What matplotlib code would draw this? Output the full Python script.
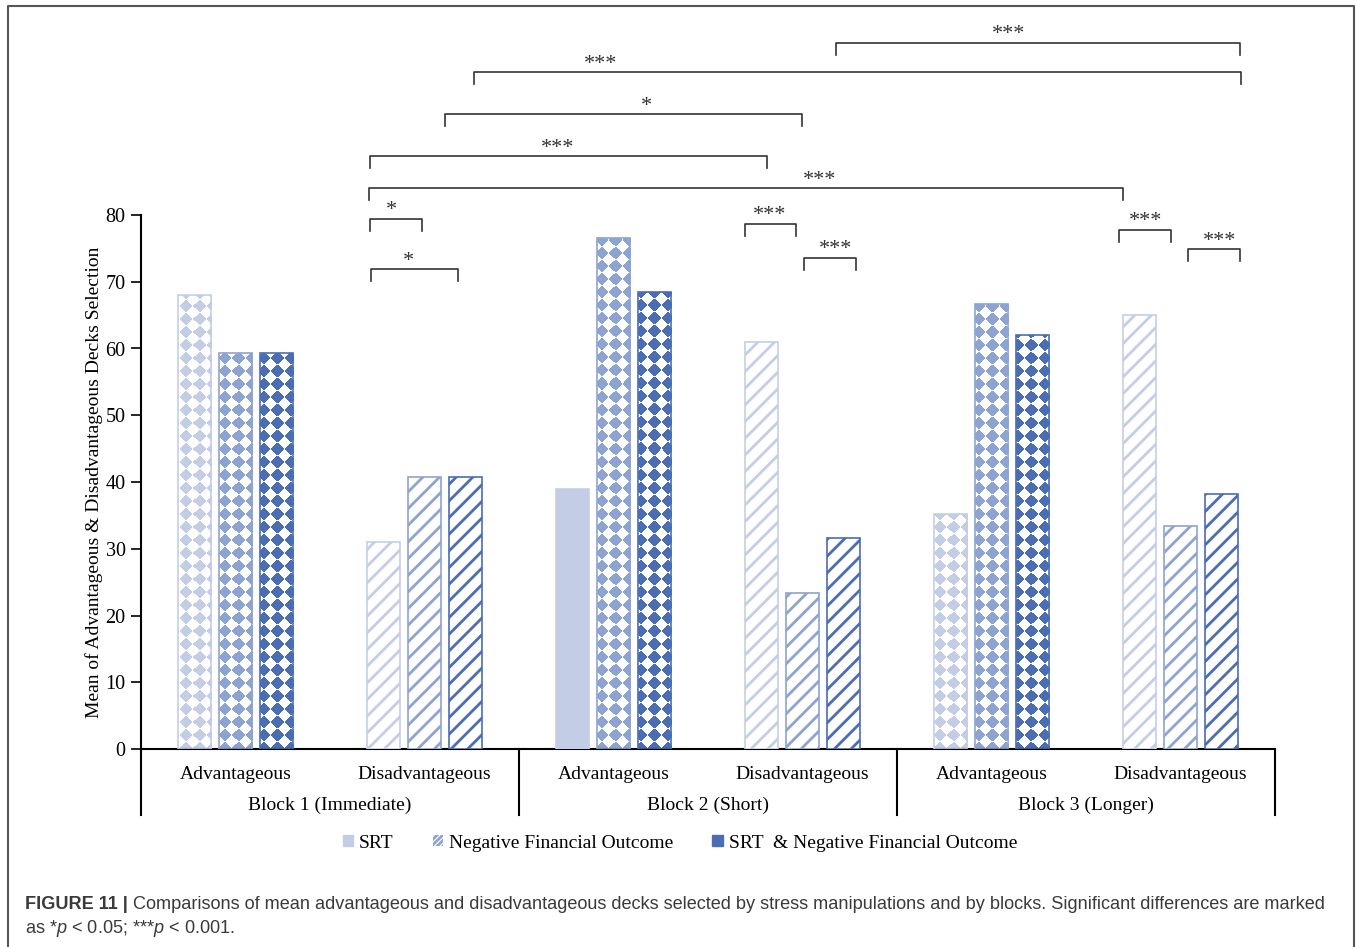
import numpy as np
import matplotlib
matplotlib.use("Agg")
import matplotlib.pyplot as plt
from matplotlib import colors as mcolors
from matplotlib.patches import Patch
from matplotlib.lines import Line2D

# Dane
blocks = ['Block 1 (Immediate)', 'Block 2 (Short)', 'Block 3 (Longer)']
decks = ['Advantageous', 'Disadvantageous', 'Advantageous', 'Disadvantageous',
         'Advantageous', 'Disadvantageous']
series = ['SRT', 'Negative Financial Outcome', 'SRT  & Negative Financial Outcome']
srt = [68.0, 31.0, 39.0, 61.0, 35.2, 65.0]
nfo = [59.3, 40.7, 76.6, 23.4, 66.6, 33.4]
both = [59.3, 40.7, 68.5, 31.6, 62.0, 38.2]
yticks = [0, 10, 20, 30, 40, 50, 60, 70, 80]

# istotnosci: (x od, x do, y, etykieta, x etykiety)
brackets = [
    (3.177, 5.315, 105.8, '***', 4.093),
    (1.262, 5.320, 101.4, '***', 1.934),
    (1.108, 2.997, 95.1, '*', 2.177),
    (0.712, 2.812, 88.8, '***', 1.706),
    (0.706, 4.696, 84.0, '***', 3.093),
    (0.712, 0.987, 79.4, '*', 0.823),
    (0.717, 1.177, 71.9, '*', 0.913),
    (2.696, 2.966, 78.7, '***', 2.828),
    (3.008, 3.283, 73.6, '***', 3.177),
    (4.675, 4.950, 77.8, '***', 4.817),
    (5.040, 5.315, 74.9, '***', 5.209),
]

caption_bold = 'FIGURE 11 |'
caption_1 = (' Comparisons of mean advantageous and disadvantageous decks selected by stress '
             'manipulations and by blocks. Significant differences are marked')
caption_2 = r'as *$\it{p}$ < 0.05; ***$\it{p}$ < 0.001.'

# Wyglad
colors = ['#c3cee6', '#8da3d1', '#4a6db3']
fills = [['diamond', 'stripe', 'solid', 'stripe', 'diamond', 'stripe'],
         ['diamond', 'stripe'] * 3,
         ['diamond', 'stripe'] * 3]
plt.rcParams['font.family'] = ['Liberation Serif', 'DejaVu Serif']
plt.rcParams['hatch.linewidth'] = 2.0
plt.rcParams['mathtext.fontset'] = 'custom'
plt.rcParams['mathtext.rm'] = 'Liberation Sans'
plt.rcParams['mathtext.it'] = 'Liberation Sans:italic'

W, H = 1357, 947
fig = plt.figure(figsize=(W / 100, H / 100), dpi=100)
ax = fig.add_axes([141 / W, 1 - 749 / H, 1134 / W, 534 / H])


def diamond_tex(color, w=1134, h=534, c=13):
    yy, xx = np.mgrid[0:h, 0:w] + 0.5
    on = (np.floor((xx + yy) / c) + np.floor((xx - yy) / c)) % 2 == 0
    rgb = np.ones((h, w, 3))
    rgb[on] = mcolors.to_rgb(color)
    return rgb


x = np.arange(len(decks))
width = 0.175
step = 0.217
for i, vals in enumerate([srt, nfo, both]):
    col = colors[i]
    tex = diamond_tex(col)
    for j in range(len(decks)):
        style = fills[i][j]
        xpos = x[j] + (i - 1) * step
        if style == 'solid':
            ax.bar(xpos, vals[j], width, color=col, edgecolor=col, lw=1.2, zorder=3)
        elif style == 'stripe':
            ax.bar(xpos, vals[j], width, facecolor='white', edgecolor=col, hatch='//',
                   lw=1.2, zorder=3)
        else:
            b = ax.bar(xpos, vals[j], width, facecolor='none', edgecolor=col, lw=1.2,
                       zorder=3)[0]
            im = ax.imshow(tex, extent=(-0.5, 5.5, 0, 80), aspect='auto',
                           interpolation='nearest', zorder=2)
            im.set_clip_path(b)

ax.set_xlim(-0.5, 5.5)
ax.set_ylim(0, 80)
ax.set_yticks(yticks)
ax.tick_params(axis='y', length=7, width=1.2, labelsize=14.5, pad=4)
ax.set_xticks(x)
ax.set_xticklabels(decks, fontsize=14)
ax.tick_params(axis='x', length=0, pad=12)
for s in ['top', 'right']:
    ax.spines[s].set_visible(False)
ax.spines['left'].set_linewidth(1.5)
ax.spines['bottom'].set_linewidth(1.5)
ax.set_ylabel('Mean of Advantageous & Disadvantageous Decks Selection', fontsize=14,
              labelpad=2)

# podzial na bloki
trans = ax.get_xaxis_transform()
for xd in [-0.5, 1.5, 3.5, 5.5]:
    ax.add_line(Line2D([xd, xd], [0, -0.124], transform=trans, color='black', lw=1.5,
                       clip_on=False))
for k, name in enumerate(blocks):
    ax.text(2 * k + 0.5, -0.105, name, transform=trans, ha='center', va='center',
            fontsize=14)

# nawiasy istotnosci
for x1, x2, y, lab, lx in brackets:
    ax.plot([x1, x1, x2, x2], [y - 1.8, y, y, y - 1.8], color='#333333', lw=1.2,
            clip_on=False)
    ax.text(lx, y + 1.2, lab, ha='center', va='center', fontsize=16, color='#333333',
            clip_on=False)

# legenda
handles = [Patch(facecolor=colors[0], edgecolor=colors[0]),
           Patch(facecolor='white', edgecolor=colors[1], hatch='//////', lw=0),
           Patch(facecolor=colors[2], edgecolor=colors[2])]
fig.legend(handles, series, loc='center', bbox_to_anchor=(680 / W, 1 - 843 / H), ncol=3,
           frameon=False, fontsize=14, handlelength=0.55, handleheight=0.55,
           handletextpad=0.3, columnspacing=2.0)

# ramka
fig.add_artist(Line2D([8 / W, 8 / W, 1354 / W, 1354 / W], [0, 1 - 6 / H, 1 - 6 / H, 0],
                      transform=fig.transFigure, color='#555555', lw=1.5))

# podpis
capfont = dict(family='Liberation Sans', fontsize=13.1, color='#3a3a3a')
tb = fig.text(25 / W, 1 - 909 / H, caption_bold, fontweight='bold', va='baseline', **capfont)
r = fig.canvas.get_renderer()
bb = tb.get_window_extent(r)
fig.text(bb.x1 / W, 1 - 909 / H, caption_1, va='baseline', **capfont)
fig.text(25 / W, 1 - 933 / H, caption_2, va='baseline', **capfont)

plt.savefig('out.png', dpi=100)
